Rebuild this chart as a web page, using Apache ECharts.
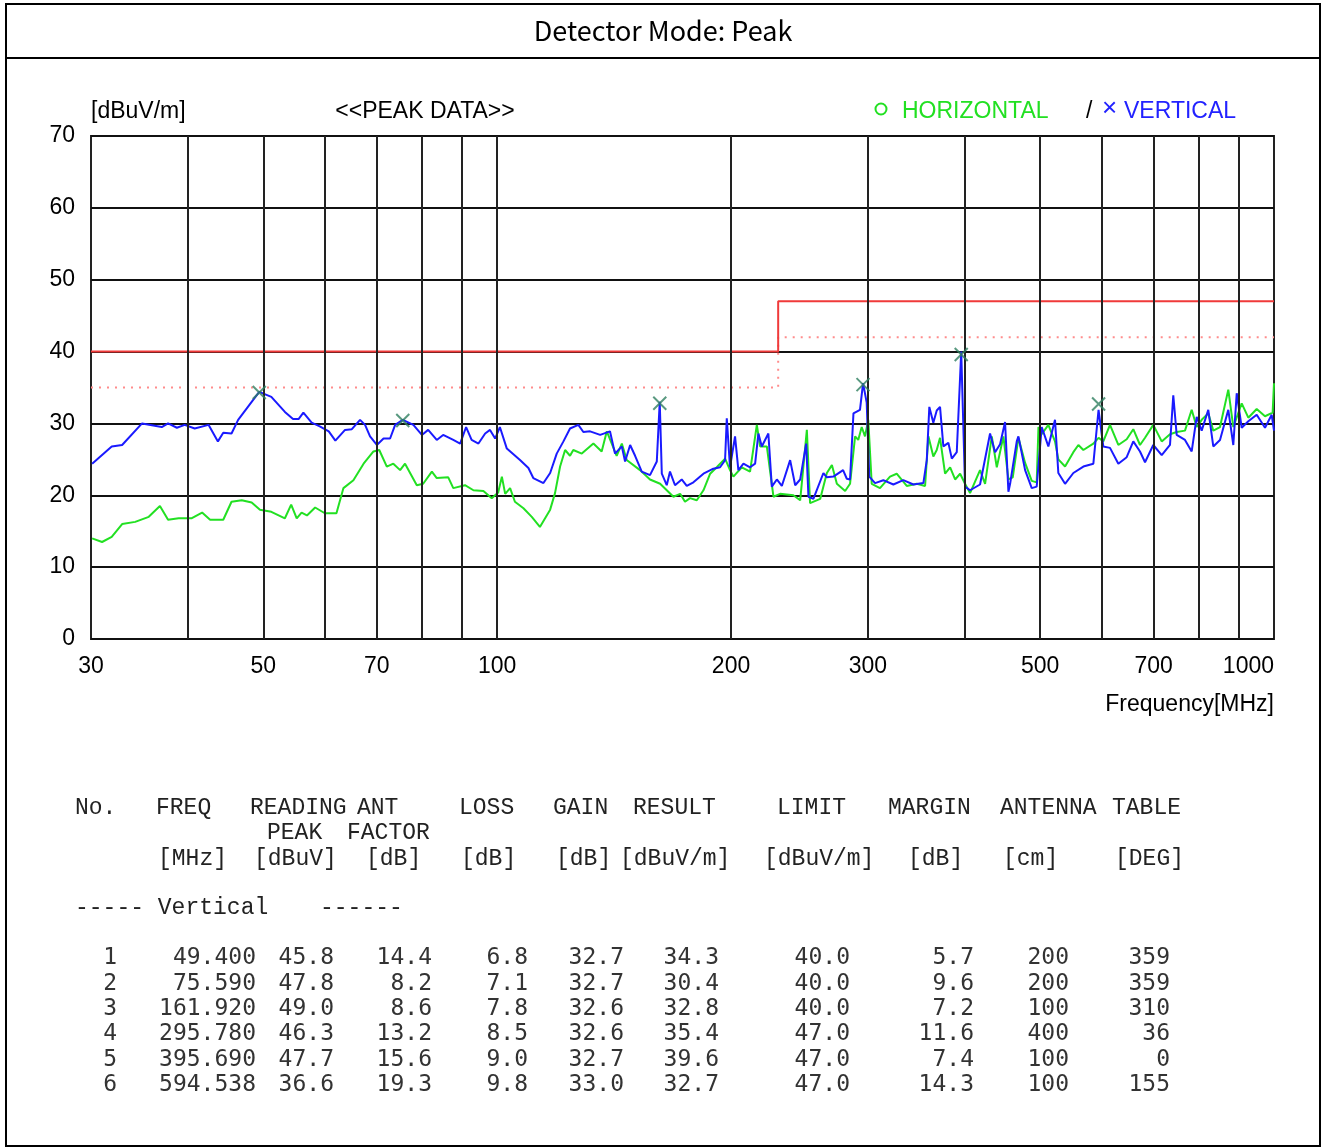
<!DOCTYPE html>
<html>
<head>
<meta charset="utf-8">
<title>Detector Mode: Peak</title>
<script src="https://cdn.jsdelivr.net/npm/echarts@6/dist/echarts.min.js"></script>
<style>
  html, body { margin: 0; padding: 0; background: #fff; }
  #main { width: 1322px; height: 1148px; }
</style>
</head>
<body>
<div id="main"></div>
<script>
// traces: [MHz, dBuV/m]
const vertical = [
  [30.1,24.4],[31.9,26.8],[32.9,27.0],[34.9,30.0],[37.0,29.5],[37.7,30.0],[38.7,29.4],[39.6,29.8],
  [40.8,29.3],[42.5,29.8],[43.7,27.5],[44.4,28.7],[45.5,28.6],[46.4,30.5],[48.3,33.0],[49.4,34.4],
  [51.2,33.7],[53.3,31.6],[54.6,30.6],[55.5,30.6],[56.3,31.5],[57.7,30.1],[59.1,29.6],[60.7,28.9],
  [61.9,27.6],[63.7,29.1],[65.0,29.2],[66.6,30.5],[67.6,29.8],[68.6,28.2],[70.0,27.0],[71.4,27.9],
  [72.8,27.9],[73.9,29.8],[75.6,30.5],[78.0,29.8],[80.0,28.4],[81.5,29.1],[83.6,27.7],[85.2,28.4],
  [87.8,27.7],[89.6,27.2],[91.2,29.5],[92.7,27.7],[94.6,27.2],[96.5,28.6],[97.9,29.1],[99.4,27.9],
  [100.8,29.5],[102.9,26.5],[107.0,24.9],[109.7,23.8],[111.3,22.4],[114.7,21.7],[117.0,23.1],[119.3,25.8],
  [121.7,27.5],[124.1,29.3],[127.2,29.8],[129.1,28.8],[131.7,28.9],[135.7,28.4],[139.7,28.9],[141.8,25.8],
  [144.7,26.8],[146.1,24.7],[148.3,27.0],[150.5,25.5],[153.5,23.3],[157.3,22.8],[160.5,24.7],[161.9,33.0],
  [162.9,23.0],[165.3,21.4],[166.9,23.3],[169.4,21.4],[172.8,22.2],[175.4,21.3],[178.9,21.8],[184.3,23.0],
  [189.8,23.7],[193.6,23.9],[196.5,24.9],[197.5,30.7],[199.4,23.9],[202.4,28.2],[204.4,23.5],[207.5,24.4],
  [211.6,23.9],[214.8,24.4],[216.9,28.6],[219.1,26.8],[223.4,28.6],[225.7,21.2],[229.1,22.2],[232.5,21.3],
  [238.3,24.9],[241.9,21.4],[245.5,22.2],[249.9,27.2],[251.6,19.8],[255.3,19.5],[263.0,23.1],[265.7,22.5],
  [270.9,22.6],[278.8,23.5],[281.9,22.3],[284.6,22.2],[287.5,31.4],[293.1,31.9],[295.8,35.6],[299.0,32.9],
  [301.3,22.6],[306.5,21.7],[314.1,22.1],[323.6,21.5],[333.3,22.1],[343.4,21.5],[353.7,21.7],[357.3,24.9],
  [360.0,32.3],[364.3,30.1],[368.0,31.8],[371.6,32.3],[375.3,26.8],[380.9,27.3],[384.8,25.1],[390.5,26.0],
  [395.7,40.0],[400.2,21.2],[406.2,20.7],[418.4,21.5],[431.0,28.6],[437.5,26.0],[444.0,27.1],[450.6,30.2],
  [455.1,20.5],[457.4,21.6],[466.5,27.5],[468.8,28.2],[478.2,23.5],[487.7,21.0],[494.9,21.2],[502.3,29.5],
  [512.3,26.8],[522.5,30.5],[527.7,23.1],[538.3,21.6],[551.7,23.1],[568.3,24.0],[585.4,24.4],[594.5,31.9],
  [602.9,26.8],[615.0,26.6],[630.4,24.4],[646.2,25.3],[659.0,27.5],[672.2,26.1],[682.3,24.6],[699.2,27.0],
  [716.9,25.6],[734.7,27.0],[741.9,33.9],[749.4,28.4],[768.1,27.7],[783.5,26.1],[795.2,30.9],[807.1,29.0],
  [823.0,31.9],[835.3,26.8],[852.1,27.7],[873.3,31.9],[886.4,27.0],[895.4,34.2],[908.7,29.4],[926.7,30.3],
  [950.0,31.2],[973.7,29.4],[993.2,31.2],[1000,29.0]
];

const horizontal = [
  [30.1,14.0],[31.0,13.5],[31.9,14.2],[32.9,16.0],[34.2,16.3],[35.6,17.0],[36.8,18.5],[37.7,16.6],
  [38.9,16.8],[40.4,16.8],[41.7,17.6],[42.7,16.6],[44.4,16.6],[45.5,19.1],[46.9,19.3],[48.3,19.0],
  [49.5,18.0],[51.2,17.7],[53.3,16.8],[54.3,18.7],[55.2,16.8],[56.0,17.6],[56.9,17.2],[58.3,18.3],
  [60.0,17.5],[62.1,17.5],[63.4,21.0],[65.3,22.1],[67.3,24.4],[69.3,26.1],[70.5,26.3],[72.1,24.0],
  [73.5,24.4],[75.0,23.5],[76.1,24.4],[78.8,21.4],[80.3,21.6],[82.4,23.3],[83.6,22.4],[86.5,22.5],
  [87.8,21.0],[90.9,21.4],[93.2,20.7],[96.0,20.6],[98.4,19.6],[100.3,20.4],[101.4,22.6],[102.4,20.2],
  [103.9,21.0],[105.4,19.1],[108.1,18.2],[110.8,17.0],[113.5,15.6],[117.0,18.0],[118.7,20.3],[120.5,24.0],
  [122.3,26.3],[124.1,25.5],[125.3,26.3],[128.5,25.8],[133.0,27.2],[136.3,26.1],[138.4,28.9],[142.5,25.5],
  [144.7,27.2],[146.8,24.9],[152.7,23.5],[157.3,22.2],[162.1,21.6],[168.6,19.8],[172.0,20.2],[174.5,19.1],
  [177.1,19.6],[180.7,19.3],[184.3,20.7],[188.0,23.0],[191.7,23.9],[196.5,25.1],[199.4,23.5],[201.4,22.6],
  [206.5,23.9],[211.6,23.3],[215.9,29.8],[218.0,26.8],[222.4,26.8],[226.8,19.8],[231.3,20.2],[240.6,20.0],
  [245.5,19.3],[250.4,29.1],[252.8,18.9],[260.5,19.5],[265.7,23.1],[269.7,24.2],[273.7,21.6],[280.5,20.6],
  [284.6,21.6],[288.9,28.2],[291.6,27.7],[294.6,29.5],[297.5,28.2],[300.4,30.5],[303.5,21.6],[311.0,21.0],
  [320.4,22.6],[326.8,23.0],[336.7,21.3],[346.8,21.6],[355.5,21.3],[359.0,28.2],[364.3,25.4],[368.0,26.3],
  [371.6,28.0],[377.2,23.0],[382.9,23.9],[388.6,22.2],[394.4,23.0],[400.2,21.6],[406.2,20.3],[418.4,23.5],
  [424.7,21.6],[433.2,28.2],[439.7,23.9],[448.4,28.2],[455.1,22.2],[461.0,22.5],[468.8,28.0],[478.2,24.5],
  [487.7,22.0],[494.9,21.8],[497.5,29.5],[502.3,28.5],[512.3,29.8],[522.5,27.5],[527.7,25.0],[538.3,24.0],
  [551.7,26.0],[560.0,27.0],[568.3,26.3],[585.4,27.2],[594.5,28.0],[602.9,27.5],[615.0,29.8],[630.4,27.0],
  [646.2,27.8],[659.0,29.2],[672.2,27.0],[682.3,28.0],[699.2,29.8],[716.9,27.5],[734.7,28.5],[749.4,28.8],
  [768.1,29.0],[783.5,31.9],[795.2,29.5],[807.1,30.5],[823.0,31.4],[835.3,29.0],[852.1,29.5],[873.3,34.7],
  [886.4,29.5],[908.7,32.8],[926.7,30.8],[950.0,32.0],[973.7,31.0],[996.0,31.5],[1000,35.6]
];

// limits
const limitFreq = [30, 230, 230, 1000];
const limitLevel = [40, 40, 47, 47];
const limitMargin = [35, 35, 42, 42];

// axis
const gridFreq = [40, 50, 60, 70, 80, 90, 100, 200, 300, 400, 500, 600, 700, 800, 900];
const labelFreq = [30, 50, 70, 100, 200, 300, 500, 700, 1000];

// peak table
const rowNo = [1, 2, 3, 4, 5, 6];
const peakFreq = [49.4, 75.59, 161.92, 295.78, 395.69, 594.538];
const readingPeak = [45.8, 47.8, 49.0, 46.3, 47.7, 36.6];
const antFactor = [14.4, 8.2, 8.6, 13.2, 15.6, 19.3];
const cableLoss = [6.8, 7.1, 7.8, 8.5, 9.0, 9.8];
const ampGain = [32.7, 32.7, 32.6, 32.6, 32.7, 33.0];
const result = [34.3, 30.4, 32.8, 35.4, 39.6, 32.7];
const limitAt = [40.0, 40.0, 40.0, 47.0, 47.0, 47.0];
const margin = [5.7, 9.6, 7.2, 11.6, 7.4, 14.3];
const antHeight = [200, 200, 100, 400, 100, 100];
const tableDeg = [359, 359, 310, 36, 0, 155];

const head1 = ['No.', 'FREQ', 'READING', 'ANT', 'LOSS', 'GAIN', 'RESULT', 'LIMIT', 'MARGIN', 'ANTENNA', 'TABLE'];
const head2 = ['', '', 'PEAK', 'FACTOR', '', '', '', '', '', '', ''];
const head3 = ['', '[MHz]', '[dBuV]', '[dB]', '[dB]', '[dB]', '[dBuV/m]', '[dBuV/m]', '[dB]', '[cm]', '[DEG]'];

// layout of the table (pixels)
const head1X = [75, 156, 250, 357, 459, 553, 633, 777, 888, 1000, 1112];
const head2X = [0, 0, 267, 347, 0, 0, 0, 0, 0, 0, 0];
const head3X = [0, 158, 254, 366, 461, 556, 620, 764, 908, 1003, 1115];
const colRight = [117, 256, 334, 432, 528, 624, 719, 850, 974, 1069, 1170];
const rowY = [958, 984, 1009, 1034, 1060, 1085];

const SANS = '"Liberation Sans", Arial, sans-serif';
const HEAD_FONT = '23px "Liberation Mono", "Courier New", monospace';
const DATA_FONT = '23px "DejaVu Sans Mono", monospace';

const chart = echarts.init(document.getElementById('main'));

const pair = (xs, ys) => xs.map((x, i) => [x, ys[i]]);

const graphic = [
  { type: 'rect', shape: { x: 6, y: 4, width: 1314, height: 1142 }, style: { fill: 'none', stroke: '#000', lineWidth: 2 } },
  { type: 'line', shape: { x1: 6, y1: 58, x2: 1320, y2: 58 }, style: { stroke: '#000', lineWidth: 2 } },
  { type: 'text', x: 663, y: 31, style: { text: 'Detector Mode: Peak', font: '27px "Noto Sans CJK KR", "Noto Sans", sans-serif', fill: '#000', align: 'center', verticalAlign: 'middle' } },
  { type: 'text', x: 91, y: 112, style: { text: '[dBuV/m]', font: '23px ' + SANS, fill: '#000', align: 'left', verticalAlign: 'middle' } },
  { type: 'text', x: 425, y: 112, style: { text: '<<PEAK DATA>>', font: '23px ' + SANS, fill: '#000', align: 'center', verticalAlign: 'middle' } },
  { type: 'circle', shape: { cx: 881, cy: 109, r: 5.5 }, style: { fill: 'none', stroke: '#22e022', lineWidth: 2 } },
  { type: 'text', x: 902, y: 112, style: { text: 'HORIZONTAL', font: '23px ' + SANS, fill: '#22e022', align: 'left', verticalAlign: 'middle' } },
  { type: 'text', x: 1086, y: 112, style: { text: '/', font: '23px ' + SANS, fill: '#000', align: 'left', verticalAlign: 'middle' } },
  { type: 'text', x: 1102, y: 109, style: { text: '×', font: '26px ' + SANS, fill: '#2222ff', align: 'left', verticalAlign: 'middle' } },
  { type: 'text', x: 1124, y: 112, style: { text: 'VERTICAL', font: '23px ' + SANS, fill: '#2222ff', align: 'left', verticalAlign: 'middle' } },
  { type: 'text', x: 1274, y: 705, style: { text: 'Frequency[MHz]', font: '23px ' + SANS, fill: '#000', align: 'right', verticalAlign: 'middle' } }
];

function headText(t, x, y) {
  if (!t) return;
  graphic.push({ type: 'text', x: x, y: y, style: { text: t, font: HEAD_FONT, fill: '#222', align: 'left', verticalAlign: 'middle' } });
}
head1.forEach((t, i) => headText(t, head1X[i], 808));
head2.forEach((t, i) => headText(t, head2X[i], 833));
head3.forEach((t, i) => headText(t, head3X[i], 859));
headText('----- Vertical', 75, 908);
headText('------', 320, 908);

const columns = [
  rowNo.map(String),
  peakFreq.map(v => v.toFixed(3)),
  readingPeak.map(v => v.toFixed(1)),
  antFactor.map(v => v.toFixed(1)),
  cableLoss.map(v => v.toFixed(1)),
  ampGain.map(v => v.toFixed(1)),
  result.map(v => v.toFixed(1)),
  limitAt.map(v => v.toFixed(1)),
  margin.map(v => v.toFixed(1)),
  antHeight.map(String),
  tableDeg.map(String)
];
columns.forEach((col, c) => {
  col.forEach((t, r) => {
    graphic.push({ type: 'text', x: colRight[c], y: rowY[r], style: { text: t, font: DATA_FONT, fill: '#333', align: 'right', verticalAlign: 'middle' } });
  });
});

const option = {
  backgroundColor: '#fff',
  animation: false,
  grid: { left: 91, top: 136, width: 1183, height: 503, show: true, borderColor: '#222', borderWidth: 2, backgroundColor: 'transparent' },
  xAxis: {
    type: 'log', logBase: 10, min: 30, max: 1000,
    axisLine: { show: false }, axisTick: { show: false }, axisLabel: { show: false }, splitLine: { show: false }
  },
  yAxis: {
    type: 'value', min: 0, max: 70, interval: 10,
    axisLine: { show: false }, axisTick: { show: false },
    axisLabel: { fontSize: 23, fontFamily: SANS, color: '#000', margin: 16 },
    splitLine: { lineStyle: { color: '#111', width: 2 } }
  },
  graphic: graphic,
  series: [
    {
      name: 'grid', type: 'line', data: [], z: 1, silent: true,
      markLine: {
        silent: true, symbol: 'none', animation: false,
        lineStyle: { color: '#222', width: 2, type: 'solid' },
        label: { show: false },
        data: gridFreq.map(f => ({ xAxis: f }))
      }
    },
    {
      name: 'ticks', type: 'line', data: [], z: 1, silent: true,
      markLine: {
        silent: true, symbol: 'none', animation: false,
        lineStyle: { color: 'rgba(0,0,0,0)', width: 1 },
        label: { show: true, position: 'start', distance: 16, formatter: p => String(p.value), fontSize: 23, fontFamily: SANS, color: '#000' },
        // the last label sits inside the plot's right edge
        data: labelFreq.map((f, i) => i === labelFreq.length - 1
          ? { xAxis: f, label: { align: 'right' } }
          : { xAxis: f })
      }
    },
    {
      name: 'limit margin', type: 'line', data: pair(limitFreq, limitMargin), symbol: 'none', z: 2,
      lineStyle: { color: '#ff8c8c', width: 2, type: [2, 6] }
    },
    {
      name: 'limit', type: 'line', data: pair(limitFreq, limitLevel), symbol: 'none', z: 2,
      lineStyle: { color: '#f03a3a', width: 2 }
    },
    {
      name: 'HORIZONTAL', type: 'line', data: horizontal, symbol: 'none', z: 3,
      lineStyle: { color: '#22e022', width: 2 }
    },
    {
      name: 'VERTICAL', type: 'line', data: vertical, symbol: 'none', z: 4,
      lineStyle: { color: '#1a1aff', width: 2 }
    },
    {
      name: 'peaks', type: 'scatter', data: pair(peakFreq, result), z: 5,
      symbol: 'path://M0 0L10 10M10 0L0 10', symbolSize: 13,
      itemStyle: { color: 'none', borderColor: '#2f7f60', borderWidth: 2 }
    }
  ]
};

chart.setOption(option);
</script>
</body>
</html>
